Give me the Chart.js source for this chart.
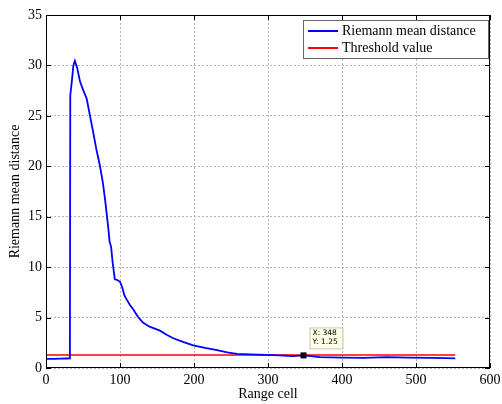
<!DOCTYPE html>
<html>
<head>
<meta charset="utf-8">
<script src="https://cdn.jsdelivr.net/npm/chart.js@4"></script>
<style>
    body { margin: 0; background: #fff; }
    #wrap { width: 502px; height: 404px; }
</style>
</head>
<body>
<div id="wrap"><canvas id="chart" width="502" height="404"></canvas></div>
<script>
// Werte
const rangeCells = [0, 10, 20, 28, 32.3, 32.8, 35, 37, 39, 42, 46, 50, 55, 60, 64, 68, 73, 77, 80, 84, 86, 88, 90, 93, 97, 100, 103, 106, 109, 113, 118, 124, 131, 140, 154, 163, 172, 185, 199, 215, 231, 245, 258, 275, 298, 315, 334, 348, 370, 400, 430, 460, 490, 520, 540, 553];
const meanDistance = [0.9, 0.9, 0.92, 0.94, 0.95, 27, 28.5, 30, 30.45, 29.8, 28.4, 27.6, 26.7, 24.8, 23.3, 21.7, 20.0, 18.3, 16.6, 14.0, 12.5, 12.0, 10.5, 8.8, 8.7, 8.55, 8.0, 7.2, 6.8, 6.3, 5.8, 5.1, 4.5, 4.1, 3.7, 3.3, 2.95, 2.6, 2.25, 2.0, 1.78, 1.55, 1.4, 1.35, 1.3, 1.25, 1.18, 1.25, 1.08, 1.02, 1.0, 1.08, 1.02, 1.0, 0.98, 0.95];
const thresholdX = [0, 553];
const thresholdY = [1.28, 1.28];
const datatip = { x: 348, y: 1.25 };

const seriesLabels = ['Riemann mean distance', 'Threshold value'];
const xTitle = 'Range cell';
const yTitle = 'Riemann mean distance';

const serif = 'Liberation Serif';

function toPoints(xs, ys) {
    return xs.map((x, i) => ({ x: x, y: ys[i] }));
}

// Rahmen, Ticks nach innen, Legende und Datatip
const matlabStyle = {
    id: 'matlabStyle',
    afterDraw(chart) {
        const ctx = chart.ctx;
        const a = chart.chartArea;
        const xs = chart.scales.x;
        const ys = chart.scales.y;

        ctx.save();
        ctx.strokeStyle = '#000';
        ctx.lineWidth = 1;
        ctx.strokeRect(a.left + 0.5, a.top + 0.5, a.right - a.left - 1, a.bottom - a.top - 1);

        ctx.beginPath();
        for (const t of xs.ticks) {
            const p = Math.round(xs.getPixelForValue(t.value)) + 0.5;
            ctx.moveTo(p, a.bottom); ctx.lineTo(p, a.bottom - 5);
            ctx.moveTo(p, a.top); ctx.lineTo(p, a.top + 5);
        }
        for (const t of ys.ticks) {
            const p = Math.round(ys.getPixelForValue(t.value)) + 0.5;
            ctx.moveTo(a.left, p); ctx.lineTo(a.left + 5, p);
            ctx.moveTo(a.right, p); ctx.lineTo(a.right - 5, p);
        }
        ctx.stroke();

        // Datatip
        const px = xs.getPixelForValue(datatip.x);
        const py = ys.getPixelForValue(datatip.y);
        ctx.fillStyle = '#000';
        ctx.fillRect(px - 3, py - 3, 6, 6);
        const bx = px + 6, by = py - 28;
        ctx.fillStyle = '#ffffe6';
        ctx.strokeStyle = '#c8c8b4';
        ctx.fillRect(bx, by, 33, 21);
        ctx.strokeRect(bx + 0.5, by + 0.5, 33, 21);
        ctx.fillStyle = '#000';
        ctx.font = '7.5px "DejaVu Sans"';
        ctx.textBaseline = 'middle';
        ctx.textAlign = 'left';
        ctx.fillText('X: ' + datatip.x, bx + 3, by + 6);
        ctx.fillText('Y: ' + datatip.y, bx + 3, by + 15);

        // Legende
        const lx = 303, ly = 20, lw = a.right - 2 - lx, lh = 38;
        ctx.fillStyle = '#fff';
        ctx.fillRect(lx, ly, lw, lh);
        ctx.strokeStyle = '#666';
        ctx.strokeRect(lx + 0.5, ly + 0.5, lw, lh);
        ctx.font = '14px "' + serif + '"';
        chart.data.datasets.forEach((ds, i) => {
            const yy = ly + 11 + i * 17;
            ctx.strokeStyle = ds.borderColor;
            ctx.lineWidth = 2;
            ctx.beginPath();
            ctx.moveTo(lx + 5, yy); ctx.lineTo(lx + 35, yy);
            ctx.stroke();
            ctx.fillStyle = '#000';
            ctx.fillText(ds.label, lx + 39, yy);
        });
        ctx.restore();
    }
};

const ctx = document.getElementById('chart').getContext('2d');
new Chart(ctx, {
    type: 'line',
    data: {
        datasets: [
            {
                label: seriesLabels[0],
                data: toPoints(rangeCells, meanDistance),
                borderColor: '#0000ff',
                borderWidth: 1.8,
                pointRadius: 0,
                tension: 0,
                fill: false
            },
            {
                label: seriesLabels[1],
                data: toPoints(thresholdX, thresholdY),
                borderColor: '#ff0000',
                borderWidth: 1.5,
                pointRadius: 0,
                fill: false
            }
        ]
    },
    options: {
        responsive: false,
        animation: false,
        layout: { padding: { top: 15, right: 12, left: 0, bottom: 0 } },
        plugins: {
            legend: { display: false },
            tooltip: { enabled: false }
        },
        scales: {
            x: {
                type: 'linear',
                min: 0,
                max: 600,
                ticks: { stepSize: 100, color: '#000', padding: 4, maxRotation: 0, font: { family: serif, size: 14 } },
                grid: { color: '#b4b4b4', drawTicks: false },
                border: { display: false, dash: [2, 2] },
                title: { display: true, text: xTitle, color: '#000', padding: { top: 0, bottom: 1 }, font: { family: serif, size: 14 } },
                afterFit: s => { s.height = 36; s.paddingLeft = 0; s.paddingRight = 0; }
            },
            y: {
                min: 0,
                max: 35,
                ticks: { stepSize: 5, color: '#000', padding: 4, font: { family: serif, size: 14 } },
                grid: { color: '#b4b4b4', drawTicks: false },
                border: { display: false, dash: [2, 2] },
                title: { display: true, text: yTitle, color: '#000', padding: { top: 7, bottom: 0 }, font: { family: serif, size: 14 } },
                afterFit: s => { s.width = 46; s.paddingTop = 0; s.paddingBottom = 0; }
            }
        }
    },
    plugins: [matlabStyle]
});
</script>
</body>
</html>
